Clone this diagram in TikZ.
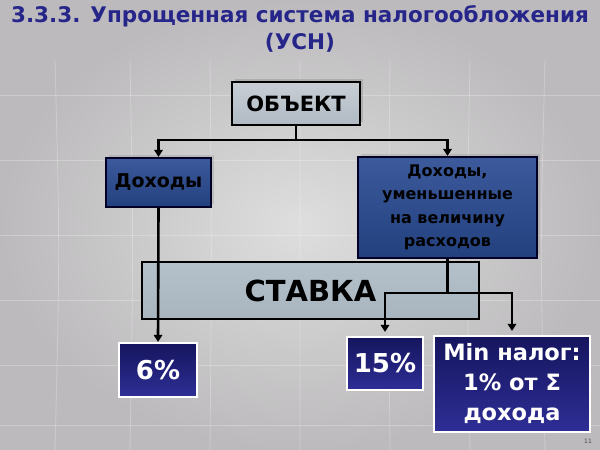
\documentclass[tikz,border=0pt]{standalone}
\usepackage{fontspec}
\setmainfont{DejaVu Sans}
\usetikzlibrary{arrows.meta,shadows}
\definecolor{navy}{HTML}{26268A}
\definecolor{bgout}{HTML}{BCBABC}
\definecolor{bgin}{HTML}{DEDEDE}
\definecolor{bltop}{HTML}{3C5A9C}
\definecolor{blmid}{HTML}{6E8CC4}
\definecolor{blbot}{HTML}{23407E}
\definecolor{sttop}{HTML}{B4C0CA}
\definecolor{stmid}{HTML}{D2D8DC}
\definecolor{stbot}{HTML}{A8B4BE}
\definecolor{dktop}{HTML}{15155E}
\definecolor{dkbot}{HTML}{2E2E96}
\definecolor{obtop}{HTML}{C8CED4}
\definecolor{obmid}{HTML}{EEF0F2}
\definecolor{obbot}{HTML}{B0BAC4}
\tikzset{
  conn/.style={line width=2.6pt, draw=black},
  arr/.style={conn, -{Triangle[length=7pt,width=8.5pt]}},
  lightbox/.style={draw=black, line width=2.2pt, top color=obtop, middle color=obmid, bottom color=obbot, inner sep=0pt,
    drop shadow={shadow xshift=3pt, shadow yshift=3pt, opacity=0.35}},
  bluebox/.style={draw=black!85!blue, line width=2.2pt, inner sep=0pt, top color=bltop, middle color=blmid, bottom color=blbot,
    text=black, align=center,
    drop shadow={shadow xshift=3pt, shadow yshift=3pt, opacity=0.25}},
  darkbox/.style={draw=white, line width=2.2pt, inner sep=0pt, top color=dktop, bottom color=dkbot,
    text=white, align=center},
}
\begin{document}
\begin{tikzpicture}[x=1pt,y=-1pt]
\useasboundingbox (0,0) rectangle (600,450);
% background
\shade[inner color=bgin, outer color=bgout] (0,0) rectangle (600,450);
\foreach \xx in {55,130,210,300,390,470,545}
  \draw[white, opacity=0.25, line width=0.8pt] (\xx,60) .. controls (\xx*0.98+6,250) .. (\xx,450);
\foreach \yy in {95,160,235,300,365,425}
  \draw[white, opacity=0.25, line width=0.8pt] (0,\yy) -- (600,\yy);
% title
\node[text=navy, font=\fontsize{21.5}{27}\selectfont\bfseries, align=center] (title) at (300,29)
  {3.3.3. Упрощенная система налогообложения\\(УСН)};
% boxes
\node[lightbox, minimum width=128pt, minimum height=43pt, font=\fontsize{21}{24}\selectfont\bfseries] (obj) at (296,103.5) {ОБЪЕКТ};
\node[bluebox, minimum width=105pt, minimum height=49pt, font=\fontsize{19}{22}\selectfont\bfseries] (doh) at (158.5,182.5) {Доходы};
\node[bluebox, minimum width=179pt, minimum height=101pt, font=\fontsize{16}{23.5}\selectfont\bfseries] (dohum) at (447.5,207.5)
  {Доходы,\\уменьшенные\\на величину\\расходов};
\node[draw=black, line width=2.4pt, inner sep=0pt, minimum width=337pt, minimum height=57pt,
  top color=sttop, middle color=stmid, bottom color=stbot,
  font=\fontsize{29}{32}\selectfont\bfseries] (stavka) at (310.5,290.5) {СТАВКА};
\node[darkbox, minimum width=78pt, minimum height=54pt, font=\fontsize{26}{30}\selectfont\bfseries] (p6) at (158,370) {6\%};
\node[darkbox, minimum width=76pt, minimum height=53pt, font=\fontsize{26}{30}\selectfont\bfseries] (p15) at (385,363.5) {15\%};
\node[darkbox, minimum width=156pt, minimum height=96pt, font=\fontsize{22.5}{30}\selectfont\bfseries] (pmin) at (512,384)
  {Min налог:\\1\% от Σ\\дохода};
\node[text=gray!60!black, font=\fontsize{6}{7}\selectfont] (pg) at (588,441) {11};
% connectors
\coordinate (j1) at (obj.south |- 0,140);
\coordinate (jl) at (doh.north |- 0,140);
\coordinate (jr) at (dohum.north |- 0,140);
\draw[conn] (obj.south) -- (j1);
\draw[arr] (j1) -- (jl) -- (doh.north);
\draw[arr] (j1) -- (jr) -- (dohum.north);
\draw[arr] (doh.south) -- (p6.north);
\coordinate (j2) at (dohum.south |- 0,293);
\coordinate (j2l) at (p15.north |- 0,293);
\coordinate (j2r) at (pmin.north |- 0,293);
\draw[conn] (dohum.south) -- (j2);
\draw[arr] (j2) -- (j2l) -- ([yshift=4pt]p15.north);
\draw[arr] (j2) -- (j2r) -- ([yshift=4pt]pmin.north);
\end{tikzpicture}
\end{document}
